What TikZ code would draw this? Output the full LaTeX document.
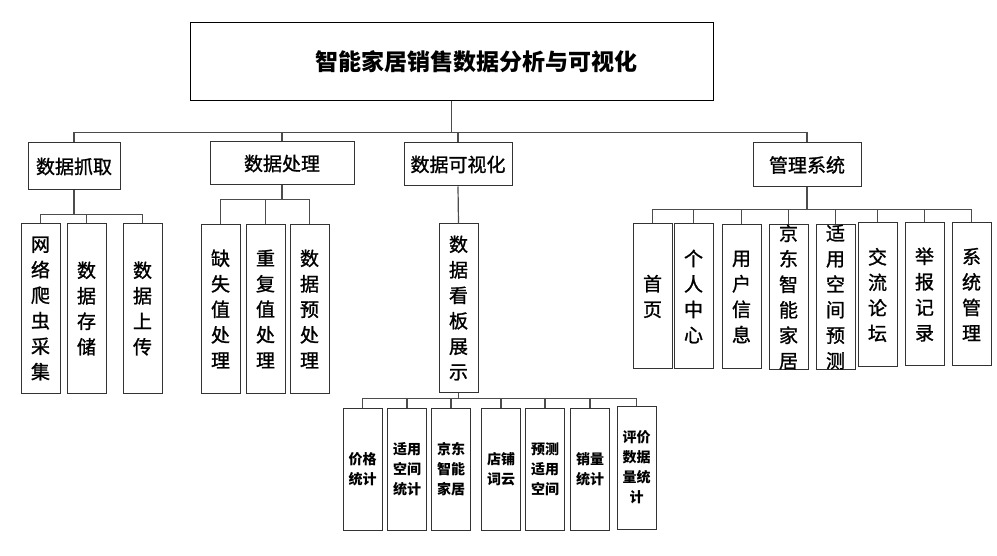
\documentclass[tikz,border=0pt]{standalone}
\usepackage{fontspec}
\setmainfont{Noto Sans CJK SC}
\newfontfamily\medfont[FakeBold=1.2]{Noto Sans CJK SC}
\tikzset{
  box/.style={draw=black!80, line width=1pt, inner sep=0pt, align=center, fill=white},
  conn/.style={draw=black!70, line width=1.2pt},
  lvone/.style={box, font=\medfont\fontsize{19}{24}\selectfont},
  vbox/.style={box, minimum width=39pt, font=\medfont\fontsize{19}{25.5}\selectfont},
  sbox/.style={box, minimum width=39pt, minimum height=122pt, font=\bfseries\fontsize{14}{20}\selectfont},
}
\begin{document}
\begin{tikzpicture}[x=1pt,y=-1pt]
\useasboundingbox[fill=white] (0,0) rectangle (997,556);
% title
\node[box, draw=black, minimum width=523pt, minimum height=78pt, font=\bfseries\fontsize{23}{28}\selectfont] (t) at (451.5,62) {\hspace*{50pt}智能家居销售数据分析与可视化};
% level 1
\node[lvone, minimum width=92pt, minimum height=47pt] (a) at (74,166.5) {数据抓取};
\node[lvone, minimum width=144pt, minimum height=43pt] (b) at (282,163.5) {数据处理};
\node[lvone, minimum width=108pt, minimum height=43pt] (c) at (458,164.5) {数据可视化};
\node[lvone, minimum width=108pt, minimum height=44pt] (d) at (807,165) {管理系统};
% children of a
\node[vbox, minimum height=169pt] (a1) at (40.5,308.5) {网\\络\\爬\\虫\\采\\集};
\node[vbox, minimum height=169pt] (a2) at (86.5,308.5) {数\\据\\存\\储};
\node[vbox, minimum height=169pt] (a3) at (142.5,308.5) {数\\据\\上\\传};
% children of b
\node[vbox, minimum height=168pt] (b1) at (220.5,309) {缺\\失\\值\\处\\理};
\node[vbox, minimum height=168pt] (b2) at (265.5,309) {重\\复\\值\\处\\理};
\node[vbox, minimum height=168pt] (b3) at (309.5,309) {数\\据\\预\\处\\理};
% child of c
\node[vbox, minimum height=168pt] (c1) at (458.5,308) {数\\据\\看\\板\\展\\示};
% children of c1
\node[sbox] (e1) at (362.5,469) {价格\\统计};
\node[sbox] (e2) at (407,469) {适用\\空间\\统计};
\node[sbox] (e3) at (451,469) {京东\\智能\\家居};
\node[sbox] (e4) at (501,469) {店铺\\词云};
\node[sbox] (e5) at (545,469) {预测\\适用\\空间};
\node[sbox] (e6) at (590,469) {销量\\统计};
\node[sbox, minimum height=123pt] (e7) at (636.5,467.5) {评价\\数据\\量统\\计};
% children of d
\node[vbox, minimum height=145pt] (d1) at (652.5,296.5) {首\\页};
\node[vbox, minimum height=145pt] (d2) at (693.5,296.5) {个\\人\\中\\心};
\node[vbox, minimum height=144pt] (d3) at (741.5,297) {用\\户\\信\\息};
\node[vbox, minimum height=144pt] (d4) at (788.5,297) {京\\东\\智\\能\\家\\居};
\node[vbox, minimum height=144pt] (d5) at (835.5,297) {适\\用\\空\\间\\预\\测};
\node[vbox, minimum height=144pt] (d6) at (877.5,295) {交\\流\\论\\坛};
\node[vbox, minimum height=143pt] (d7) at (924.5,294.5) {举\\报\\记\\录};
\node[vbox, minimum height=143pt] (d8) at (971.5,294.5) {系\\统\\管\\理};
% connectors
\foreach \n in {a,b,c,d} \draw[conn] (t.south) -- ++(0,31) -| (\n.north);
\foreach \n in {a1,a2,a3} \draw[conn] (a.south) -- ++(0,24) -| (\n.north);
\foreach \n in {b1,b2,b3} \draw[conn] (b.south) -- ++(0,14) -| (\n.north);
\draw[conn] (c.south) -- (c1.north);
\foreach \n in {e1,e2,e3,e4,e5,e6,e7} \draw[conn] (c1.south) -- ++(0,6) -| (\n.north);
\foreach \n in {d1,d2,d3,d4,d5,d6,d7,d8} \draw[conn] (d.south) -- ++(0,22) -| (\n.north);
\end{tikzpicture}
\end{document}
